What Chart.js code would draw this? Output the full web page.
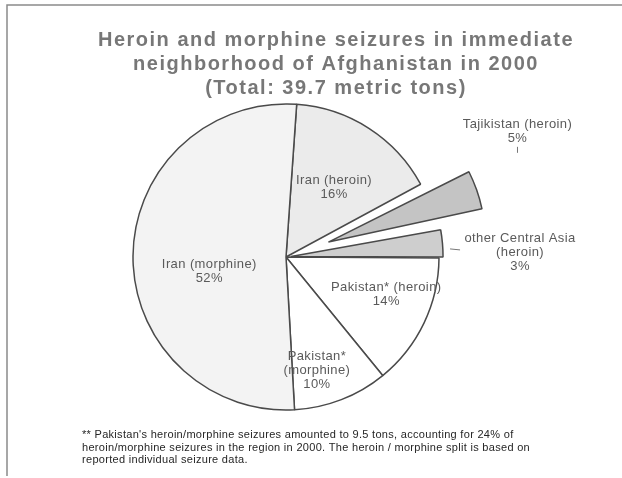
<!DOCTYPE html>
<html>
<head>
<meta charset="utf-8">
<script src="https://cdn.jsdelivr.net/npm/chart.js@4.4.0/dist/chart.umd.min.js"></script>
<style>
  html, body { margin: 0; padding: 0; background: #fff; }
  canvas { display: block; }
</style>
</head>
<body>
<canvas id="seizureChart" width="622" height="478"></canvas>
<script>
// slices in clockwise order, starting just right of 12 o'clock
const categories = [
    ['Iran (heroin)'],
    ['Tajikistan (heroin)'],
    ['other Central Asia', '(heroin)'],
    ['Pakistan* (heroin)'],
    ['Pakistan*', '(morphine)'],
    ['Iran (morphine)']
];
const shares = [16, 5, 3, 14, 10, 52];
const titleLines = [
    'Heroin and morphine seizures in immediate',
    'neighborhood of Afghanistan in 2000',
    '(Total: 39.7 metric tons)'
];
const footnoteLines = [
    "** Pakistan's heroin/morphine seizures amounted to 9.5 tons, accounting for 24% of",
    'heroin/morphine seizures in the region in 2000. The heroin / morphine split is based on',
    'reported individual seizure data.'
];

// styling per slice
const fills = ['#ebebeb', '#c4c4c4', '#cecece', '#ffffff', '#ffffff', '#f3f3f3'];
const explode = [0, 180, 20, 0, 0, 0];   // chart.js offset values (wedge moves offset/4)
const grow = [0, 18, 0, 0, 0, 0];        // extra radius for pulled-out wedges
// label placement: [radius factor, angle shift in degrees]
const labelPlace = [[0.55, 2], [1.72, -9], [1.53, 4], [0.7, -5], [0.77, 6], [0.51, -11]];

const extras = {
    id: 'extras',
    afterUpdate(chart) {
        // chart.js grows an offset arc by offset/4, keep the radius as drawn in the original
        const meta = chart.getDatasetMeta(0);
        const base = meta.controller.outerRadius;
        meta.data.forEach(function(arc, i) {
            arc.outerRadius = base + grow[i] - explode[i] / 4;
        });
    },
    beforeDraw(chart) {
        const ctx = chart.ctx;
        ctx.save();
        ctx.strokeStyle = '#8a8a8a';
        ctx.lineWidth = 1.5;
        ctx.beginPath();
        ctx.moveTo(7, 476);
        ctx.lineTo(7, 5);
        ctx.lineTo(622, 5);
        ctx.stroke();

        ctx.fillStyle = '#777777';
        ctx.font = 'bold 20px "Liberation Sans", Arial, sans-serif';
        ctx.letterSpacing = '1.5px';
        ctx.textAlign = 'center';
        ctx.textBaseline = 'alphabetic';
        titleLines.forEach(function(t, j) {
            ctx.fillText(t, 336, 46 + j * 24);
        });
        ctx.restore();
    },
    afterDatasetsDraw(chart) {
        const ctx = chart.ctx;
        const meta = chart.getDatasetMeta(0);
        const base = meta.controller.outerRadius;
        ctx.save();
        ctx.fillStyle = '#5a5a5a';
        ctx.font = '13px "Liberation Sans", Arial, sans-serif';
        ctx.letterSpacing = '0.4px';
        ctx.textAlign = 'center';
        ctx.textBaseline = 'middle';
        meta.data.forEach(function(arc, i) {
            const mid = (arc.startAngle + arc.endAngle) / 2 + labelPlace[i][1] * Math.PI / 180;
            const r = base * labelPlace[i][0];
            const x = arc.x + Math.cos(mid) * r;
            const lines = categories[i].concat([shares[i] + '%']);
            const y0 = arc.y + Math.sin(mid) * r - (lines.length - 1) * 7;
            lines.forEach(function(t, j) {
                ctx.fillText(t, x, y0 + j * 14);
            });
            // small leader ticks for the outside labels
            ctx.strokeStyle = '#777';
            ctx.lineWidth = 1;
            if (i === 1) {
                ctx.beginPath();
                ctx.moveTo(x, y0 + 22);
                ctx.lineTo(x, y0 + 28);
                ctx.stroke();
            }
            if (i === 2) {
                ctx.beginPath();
                ctx.moveTo(x - 70, y0 + 10);
                ctx.lineTo(x - 60, y0 + 11);
                ctx.stroke();
            }
        });
        ctx.restore();
    },
    afterDraw(chart) {
        const ctx = chart.ctx;
        ctx.save();
        ctx.fillStyle = '#262626';
        ctx.font = '11px "Liberation Sans", Arial, sans-serif';
        ctx.letterSpacing = '0.3px';
        ctx.textAlign = 'left';
        ctx.textBaseline = 'middle';
        footnoteLines.forEach(function(t, j) {
            ctx.fillText(t, 82, 435 + j * 12.5);
        });
        ctx.restore();
    }
};

document.addEventListener('DOMContentLoaded', function() {
    const ctx = document.getElementById('seizureChart').getContext('2d');
    const seizureChart = new Chart(ctx, {
        type: 'pie',
        data: {
            labels: categories.map(function(c) { return c.join(' '); }),
            datasets: [{
                data: shares,
                backgroundColor: fills,
                borderColor: '#4a4a4a',
                borderWidth: 1.5,
                offset: explode
            }]
        },
        options: {
            responsive: false,
            animation: false,
            events: [],
            rotation: 4,
            radius: 153,
            layout: {
                padding: { left: 0, right: 50, top: 100, bottom: 64 }
            },
            plugins: {
                legend: { display: false },
                tooltip: { enabled: false },
                title: { display: false }
            }
        },
        plugins: [extras]
    });
});
</script>
</body>
</html>
